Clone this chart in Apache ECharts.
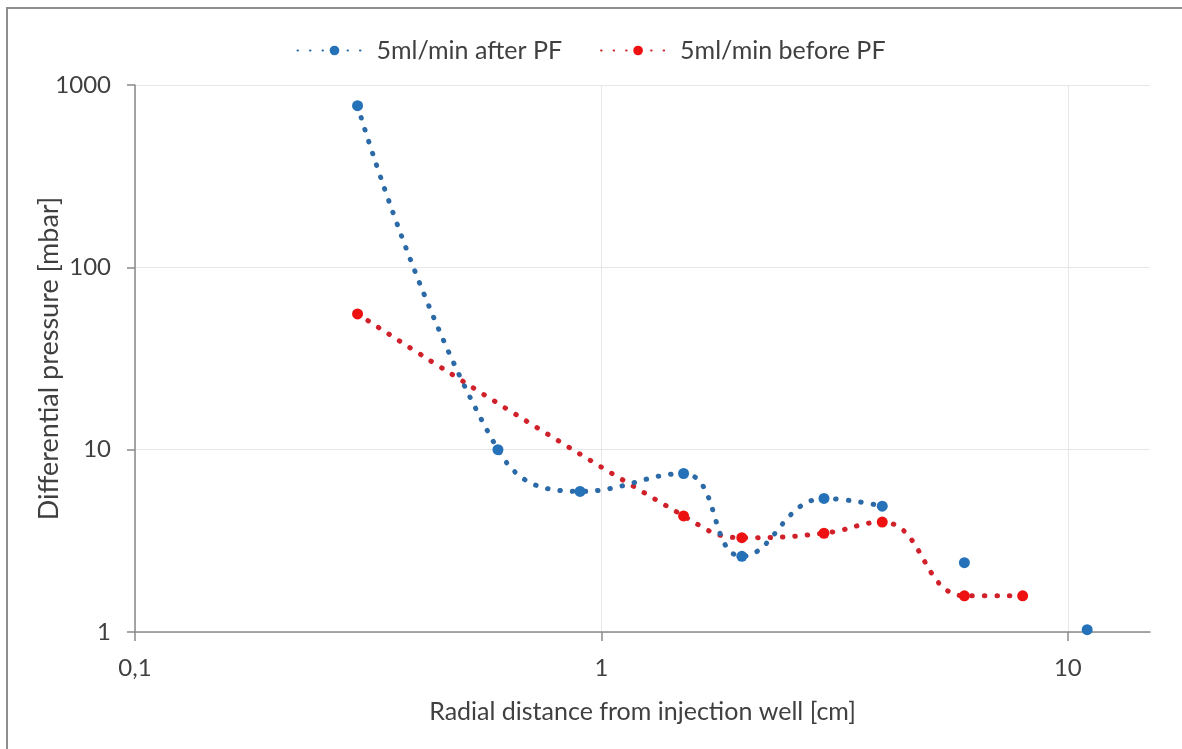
<!DOCTYPE html>
<html>
<head>
<meta charset="utf-8">
<style>
  html, body { margin: 0; padding: 0; background: #fff; }
  #chart { width: 1182px; height: 749px; }
</style>
<script src="https://cdn.jsdelivr.net/npm/echarts@6/dist/echarts.min.js"></script>
</head>
<body>
<div id="chart"></div>
<script>
// Radial distance [cm] and differential pressure [mbar]
const afterDist = [0.3, 0.6, 0.9, 1.5, 2, 3, 4];
const afterPress = [770, 10, 5.9, 7.4, 2.6, 5.4, 4.9];
// isolated readings of the same run, not joined by the curve
const afterExtraDist = [6, 11];
const afterExtraPress = [2.4, 1.03];

const beforeDist = [0.3, 1.5, 2, 3, 4, 6, 8];
const beforePress = [55.5, 4.33, 3.29, 3.48, 4.01, 1.58, 1.58];

const xTicks = [0.1, 1, 10];
const yTicks = [1, 10, 100, 1000];

const seriesNames = ['5ml/min after PF', '5ml/min before PF'];

const pairs = (xs, ys) => xs.map((x, i) => [x, ys[i]]);

const FONT = 'Lato, "Open Sans", sans-serif';
const TEXT = '#404040';
const BLUE = '#2572B9';
const BLUE_LINE = '#2B6AA6';
const RED = '#EE1111';
const RED_LINE = '#D0202A';

const chart = echarts.init(document.getElementById('chart'), null, { renderer: 'canvas' });

const dotted = (color) => ({
  color: color,
  width: 5,
  type: [0.5, 12],
  cap: 'round'
});

chart.setOption({
  animation: false,
  backgroundColor: '#fff',
  textStyle: { fontFamily: FONT, color: TEXT },
  graphic: [{
    type: 'rect',
    shape: { x: 7, y: 8, width: 1300, height: 900 },
    style: { fill: 'none', stroke: '#8e8e8e', lineWidth: 2 },
    silent: true
  }],
  legend: {
    top: 33,
    left: 'center',
    itemWidth: 74,
    itemHeight: 12,
    itemGap: 38,
    textStyle: { fontFamily: FONT, fontSize: 25, color: TEXT },
    data: seriesNames
  },
  grid: { left: 135, right: 32, top: 85, bottom: 117, containLabel: false },
  xAxis: {
    type: 'log',
    logBase: 10,
    min: 0.1,
    max: 15,
    name: 'Radial distance from injection well [cm]',
    nameLocation: 'middle',
    nameGap: 67,
    nameMoveOverlap: false,
    nameTextStyle: { fontFamily: FONT, fontSize: 25, color: TEXT },
    axisLine: { show: true, lineStyle: { color: '#8a8a8a', width: 1.5 } },
    axisTick: { show: true, length: 9, lineStyle: { color: '#8a8a8a', width: 1.5 }, customValues: xTicks },
    axisLabel: {
      customValues: xTicks,
      margin: 24,
      fontFamily: FONT, fontSize: 24, color: TEXT,
      formatter: (v) => String(v).replace('.', ',')
    },
    splitLine: { show: true, lineStyle: { color: '#e6e6e6', width: 1 } },
    minorTick: { show: false }
  },
  yAxis: {
    type: 'log',
    logBase: 10,
    min: 1,
    max: 1000,
    name: 'Differential pressure [mbar]',
    nameLocation: 'middle',
    nameGap: 72,
    nameMoveOverlap: false,
    nameTextStyle: { fontFamily: FONT, fontSize: 27, color: TEXT },
    axisLine: { show: true, lineStyle: { color: '#8a8a8a', width: 1.5 } },
    axisTick: { show: true, length: 8, lineStyle: { color: '#8a8a8a', width: 1.5 }, customValues: yTicks },
    axisLabel: {
      customValues: yTicks,
      margin: 24,
      fontFamily: FONT, fontSize: 24, color: TEXT,
      formatter: (v) => String(v)
    },
    splitLine: { show: true, lineStyle: { color: '#e6e6e6', width: 1 } }
  },
  series: [
    {
      name: seriesNames[0],
      type: 'line',
      smooth: 0.45,
      data: pairs(afterDist, afterPress),
      symbol: 'circle',
      symbolSize: 11,
      itemStyle: { color: BLUE },
      lineStyle: dotted(BLUE_LINE),
      z: 3
    },
    {
      name: seriesNames[0],
      type: 'scatter',
      data: pairs(afterExtraDist, afterExtraPress),
      symbol: 'circle',
      symbolSize: 11,
      itemStyle: { color: BLUE, opacity: 1 },
      z: 3
    },
    {
      name: seriesNames[1],
      type: 'line',
      smooth: 0.45,
      data: pairs(beforeDist, beforePress),
      symbol: 'circle',
      symbolSize: 11,
      itemStyle: { color: RED },
      lineStyle: dotted(RED_LINE),
      z: 2
    }
  ]
});
</script>
</body>
</html>
